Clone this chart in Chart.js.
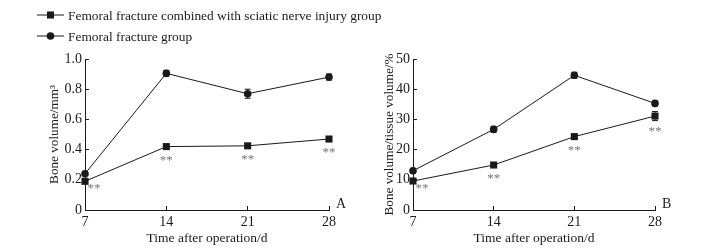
<!DOCTYPE html>
<html>
<head>
<meta charset="utf-8">
<script src="https://cdn.jsdelivr.net/npm/chart.js@4.4.0/dist/chart.umd.min.js"></script>
<style>
  body { margin: 0; background: #fff; }
  #wrap { position: relative; width: 715px; height: 250px; }
  canvas { position: absolute; top: 0; }
</style>
</head>
<body>
<div id="wrap">
  <canvas id="chartA" width="430" height="250" style="left:0"></canvas>
  <canvas id="chartB" width="358" height="250" style="left:357px"></canvas>
</div>
<script>
const days = [7, 14, 21, 28];
const seriesNames = [
  'Femoral fracture combined with sciatic nerve injury group',
  'Femoral fracture group'
];

// panel A: bone volume (mm3)
const bvCombined = [0.19, 0.42, 0.425, 0.47];
const bvCombinedErr = [0.01, 0.01, 0.01, 0.01];
const bvFracture = [0.24, 0.905, 0.77, 0.88];
const bvFractureErr = [0.01, 0.02, 0.03, 0.02];

// panel B: bone volume / tissue volume (%)
const bvtvCombined = [9.6, 14.9, 24.3, 31.1];
const bvtvCombinedErr = [0.5, 0.5, 0.5, 1.5];
const bvtvFracture = [13.0, 26.7, 44.6, 35.3];
const bvtvFractureErr = [0.8, 1.0, 1.0, 0.8];

const stars = ['**', '**', '**', '**'];

const FONT = "'Liberation Serif', 'Times New Roman', serif";
const INK = '#1a1a1a';

const errorBars = {
  id: 'errorBars',
  afterDatasetsDraw(chart) {
    const ctx = chart.ctx;
    const y = chart.scales.y;
    chart.data.datasets.forEach((ds, i) => {
      const meta = chart.getDatasetMeta(i);
      meta.data.forEach((pt, j) => {
        const v = ds.data[j].y, e = ds.errors[j];
        const top = y.getPixelForValue(v + e), bot = y.getPixelForValue(v - e);
        ctx.save();
        ctx.strokeStyle = INK;
        ctx.lineWidth = 1;
        ctx.beginPath();
        ctx.moveTo(pt.x, top); ctx.lineTo(pt.x, bot);
        ctx.moveTo(pt.x - 3, top); ctx.lineTo(pt.x + 3, top);
        ctx.moveTo(pt.x - 3, bot); ctx.lineTo(pt.x + 3, bot);
        ctx.stroke();
        // significance marks
        if (ds.stars) {
          const half = Math.max(3.5, bot - pt.y);
          ctx.fillStyle = '#777';
          ctx.font = '13px ' + FONT;
          ctx.textAlign = 'center';
          ctx.textBaseline = 'top';
          const dx = j === 0 ? 9 : 0;
          const dy = j === 0 ? 1 : half + 4;
          ctx.fillText(ds.stars[j], pt.x + dx, pt.y + dy);
        }
        ctx.restore();
      });
    });
  }
};

const panelLabel = {
  id: 'panelLabel',
  afterDraw(chart, args, opts) {
    const ctx = chart.ctx, a = chart.chartArea;
    ctx.save();
    ctx.fillStyle = INK;
    ctx.font = '14px ' + FONT;
    ctx.textAlign = 'left';
    ctx.textBaseline = 'middle';
    ctx.fillText(opts.text, a.right + 7, a.bottom - 6);
    ctx.restore();
  }
};

const sideLegend = {
  id: 'sideLegend',
  afterDraw(chart, args, opts) {
    if (!opts.show) return;
    const ctx = chart.ctx;
    chart.data.datasets.forEach((ds, i) => {
      const y = 15 + 21 * i;
      ctx.save();
      ctx.strokeStyle = INK;
      ctx.lineWidth = 1;
      ctx.beginPath();
      ctx.moveTo(37, y); ctx.lineTo(64, y);
      ctx.stroke();
      Chart.helpers.drawPoint(ctx, {
        pointStyle: ds.pointStyle, radius: ds.pointRadius, rotation: 0, borderWidth: 0
      }, 50.5, y);
      ctx.fillStyle = INK;
      ctx.font = '13.4px ' + FONT;
      ctx.textAlign = 'left';
      ctx.textBaseline = 'middle';
      ctx.fillText(ds.label, 68, y + 1);
      ctx.restore();
    });
  }
};

function toPoints(vals) {
  return days.map((d, i) => ({ x: d, y: vals[i] }));
}

function makeChart(id, combined, combinedErr, fracture, fractureErr, yMax, yStep, yTitle, panel, pad, yWidth, legend) {
  const ctx = document.getElementById(id).getContext('2d');
  return new Chart(ctx, {
    type: 'line',
    data: {
      datasets: [
        {
          label: seriesNames[0],
          data: toPoints(combined),
          errors: combinedErr,
          stars: stars,
          borderColor: INK, backgroundColor: INK,
          borderWidth: 1, pointStyle: 'rect', pointRadius: 5,
          pointBorderWidth: 0, clip: false
        },
        {
          label: seriesNames[1],
          data: toPoints(fracture),
          errors: fractureErr,
          borderColor: INK, backgroundColor: INK,
          borderWidth: 1, pointStyle: 'circle', pointRadius: 3.8,
          pointBorderWidth: 0, clip: false
        }
      ]
    },
    options: {
      responsive: false,
      animation: false,
      layout: { padding: pad },
      plugins: {
        legend: { display: false },
        tooltip: { enabled: false },
        panelLabel: { text: panel },
        sideLegend: { show: legend }
      },
      scales: {
        x: {
          type: 'linear', min: 7, max: 28,
          afterFit: s => { s.height = 40; },
          ticks: { stepSize: 7, color: INK, font: { family: FONT, size: 14 }, padding: 8, maxRotation: 0 },
          grid: { drawOnChartArea: false, tickLength: -4, color: INK },
          border: { color: INK, width: 1 },
          title: { display: true, text: 'Time after operation/d', color: INK,
                   font: { family: FONT, size: 13.5 }, padding: { top: 0, bottom: 3 } }
        },
        y: {
          min: 0, max: yMax,
          afterFit: s => { s.width = yWidth; },
          ticks: {
            stepSize: yStep, color: INK, font: { family: FONT, size: 14 }, padding: 7,
            callback: v => v === 0 ? '0' : (yStep < 1 ? v.toFixed(1) : String(v))
          },
          grid: { drawOnChartArea: false, tickLength: -4, color: INK },
          border: { color: INK, width: 1 },
          title: { display: true, text: yTitle, color: INK,
                   font: { family: FONT, size: 13.2 }, padding: 0 }
        }
      }
    },
    plugins: [errorBars, panelLabel, sideLegend]
  });
}

makeChart('chartA', bvCombined, bvCombinedErr, bvFracture, bvFractureErr,
  1, 0.2, 'Bone volume/mm³', 'A',
  { top: 59, right: 101, bottom: 0, left: 47 }, 38, true);

makeChart('chartB', bvtvCombined, bvtvCombinedErr, bvtvFracture, bvtvFractureErr,
  50, 10, 'Bone volume/tissue volume/%', 'B',
  { top: 59, right: 60, bottom: 0, left: 25 }, 31, false);
</script>
</body>
</html>
